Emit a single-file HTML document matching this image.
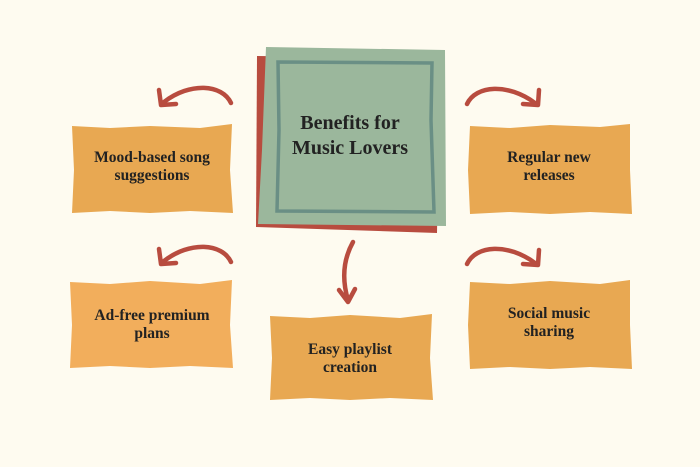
<!DOCTYPE html>
<html><head><style>
body{margin:0;background:#fefbf0;}
svg{display:block}
text{font-family:"Liberation Serif",serif;font-weight:bold;fill:#222;font-size:15.5px;text-anchor:middle}
text.t{font-size:20px}
</style></head><body>
<svg width="700" height="467" viewBox="0 0 700 467">
<rect width="700" height="467" fill="#fefbf0"/>
<path d="M257,56 L440,58 L437,233 L256,227 Z" fill="#b84c3f"/>
<path d="M266,47 L445,50 L446,226 L258,224 L262,150 Z" fill="#9bb79c"/>
<path d="M278,62 L432,63 L431,120 L434,212 L277,211 L279,130 Z" fill="none" stroke="#6a8f85" stroke-width="3.5"/>
<text class="t" x="350" y="129">Benefits for</text>
<text class="t" x="350" y="154">Music Lovers</text>
<path d="M72,126 L110,128 L150,126 L200,128 L232,124 L230,170 L233,213 L190,211 L150,213 L110,211 L72,213 L74,170 Z" fill="#e8a852"/>
<text x="152" y="162">Mood-based song</text><text x="152" y="180">suggestions</text>
<path d="M470,126 L510,128 L550,125 L600,127 L630,124 L630,170 L632,214 L590,212 L550,214 L510,212 L470,214 L468,170 Z" fill="#e8a852"/>
<text x="549" y="162">Regular new</text><text x="549" y="180">releases</text>
<path d="M70,282 L110,284 L150,281 L200,284 L232,280 L230,325 L233,368 L190,366 L150,368 L110,366 L70,368 L72,325 Z" fill="#f2ae5c"/>
<text x="152" y="320">Ad-free premium</text><text x="152" y="338">plans</text>
<path d="M270,316 L310,318 L350,315 L400,318 L432,314 L430,358 L433,400 L390,398 L350,400 L310,398 L270,400 L272,358 Z" fill="#e8a852"/>
<text x="350" y="354">Easy playlist</text><text x="350" y="372">creation</text>
<path d="M470,282 L510,284 L550,281 L600,284 L630,280 L630,325 L632,369 L590,367 L550,369 L510,367 L470,369 L468,325 Z" fill="#e8a852"/>
<text x="549" y="318">Social music</text><text x="549" y="336">sharing</text>
<g fill="none" stroke="#b84c3f" stroke-width="4.5" stroke-linecap="round" stroke-linejoin="round">
<path d="M231,103 C222,84 190,82 164,102"/><path d="M159,90 L161,105 L176,104"/>
<path d="M231,262 C222,243 190,241 164,261"/><path d="M159,249 L161,264 L176,263"/>
<path d="M467,104 C476,85 508,83 535,103"/><path d="M539,90 L538,105 L523,104"/>
<path d="M467,264 C476,245 508,243 535,263"/><path d="M539,250 L538,265 L523,264"/>
<path d="M353,242 C343,260 342,280 348,300"/><path d="M339,290 L348,302 L355,289"/>
</g>
</svg>
</body></html>
